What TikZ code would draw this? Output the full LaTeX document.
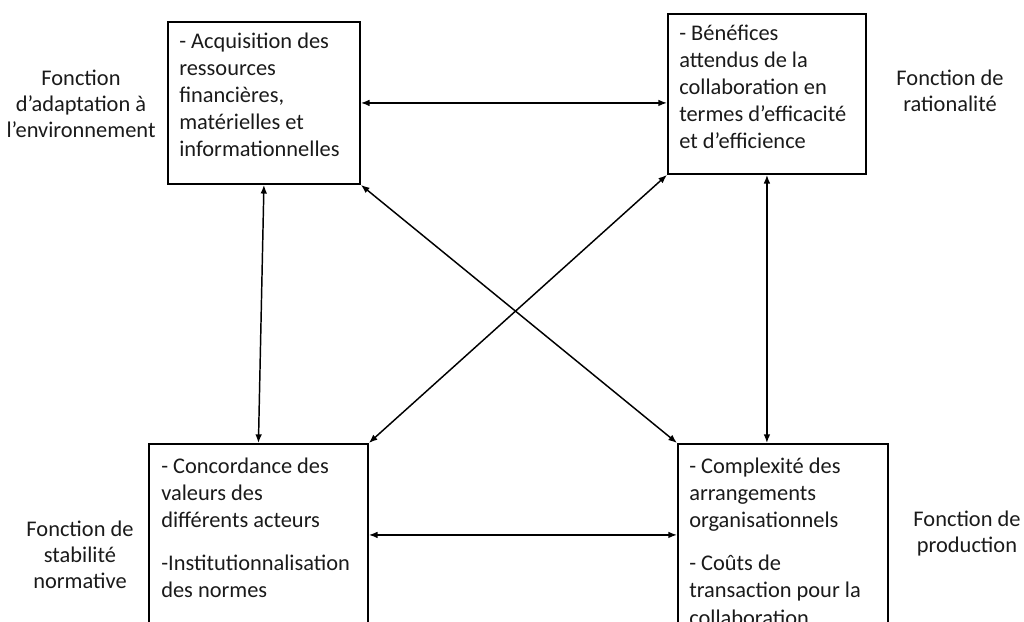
\documentclass[tikz,border=0pt]{standalone}
\usepackage{fontspec}
\setmainfont{Carlito}
\usetikzlibrary{arrows.meta}

% body text and side labels
\newcommand\boxfont{\fontsize{16.8pt}{20.4pt}\selectfont}
\newcommand\labfont{\fontsize{16.8pt}{19.5pt}\selectfont}

\definecolor{ink}{HTML}{1A1A1A}

\tikzset{
  box/.style n args={2}{draw, line width=1.4pt, inner sep=0pt,
    minimum width=#1, minimum height=#2, anchor=north west},
  boxtext/.style={anchor=base west, inner sep=0pt, text=ink},
  sidelabel/.style={anchor=base, inner sep=0pt, text=ink},
  link/.style={{Latex[length=6.5pt,width=5pt]}-{Latex[length=6.5pt,width=5pt]},
    line width=1.1pt},
}

\begin{document}
\begin{tikzpicture}[x=0.75pt,y=-0.75pt]
  \useasboundingbox (0,0) rectangle (1024,621);
  \clip (0,0) rectangle (1024,621);

  % the four function boxes
  \node[box={144pt}{121.5pt}]   (tl) at (167,21)  {};
  \node[box={148.5pt}{120pt}]   (tr) at (667,13)  {};
  \node[box={164.25pt}{136.5pt}] (bl) at (148,443) {};
  \node[box={157.5pt}{136.5pt}] (br) at (677,443) {};

  % box contents
  \node[boxtext] (tltxt) at (179,48) {\parbox[t]{150pt}{\boxfont\raggedright
    - Acquisition des\\ressources\\financières,\\matérielles et\\informationnelles}};
  \node[boxtext] (trtxt) at (679,40) {\parbox[t]{150pt}{\boxfont\raggedright
    - Bénéfices\\attendus de la\\collaboration en\\termes d’efficacité\\et d’efficience}};
  \node[boxtext] (bltxt) at (161,473) {\parbox[t]{160pt}{\boxfont\raggedright
    - Concordance des\\valeurs des\\différents acteurs\\[12pt]-Institutionnalisation\\des normes}};
  \node[boxtext] (brtxt) at (689,473) {\parbox[t]{160pt}{\boxfont\raggedright
    - Complexité des\\arrangements\\organisationnels\\[12pt]- Coûts de\\transaction pour la\\collaboration}};

  % side labels
  \node[sidelabel] (ltop) at (81,85) {\parbox[t]{160pt}{\centering\labfont
    Fonction\\d’adaptation à\\l’environnement}};
  \node[sidelabel] (rtop) at (950,85) {\parbox[t]{140pt}{\centering\labfont
    Fonction de\\rationalité}};
  \node[sidelabel] (lbot) at (80,536) {\parbox[t]{140pt}{\centering\labfont
    Fonction de\\stabilité\\normative}};
  \node[sidelabel] (rbot) at (967,526) {\parbox[t]{140pt}{\centering\labfont
    Fonction de\\production}};

  % links between the functions
  \draw[link] (tl.east) -- (tl.east -| tr.west);
  \draw[link] (bl.east) -- (br.west);
  \draw[link] (tl.south) -- (bl.north);
  \draw[link] (tr.south) -- (tr.south |- br.north);
  \draw[link] (tl.south east) -- (br.north west);
  \draw[link] (tr.south west) -- (bl.north east);
\end{tikzpicture}
\end{document}
